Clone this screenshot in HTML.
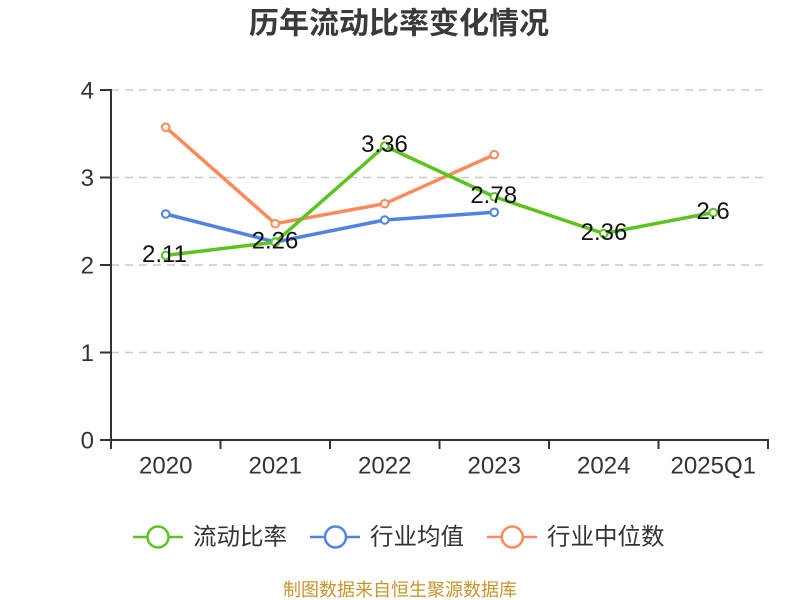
<!DOCTYPE html>
<html><head><meta charset="utf-8"><style>
html,body{margin:0;padding:0;background:#fff;}
svg{display:block;}
</style></head><body>
<svg width="800" height="600" viewBox="0 0 800 600" xmlns="http://www.w3.org/2000/svg">
<rect width="800" height="600" fill="#fff"/>
<text x="399" y="33.5" text-anchor="middle" font-family="'Liberation Sans','Noto Sans CJK SC',sans-serif" font-size="30" font-weight="bold" fill="#3a3a3a">历年流动比率变化情况</text>
<!-- grid -->
<g stroke="#cccccc" stroke-width="1.5" stroke-dasharray="8 6">
<line x1="111" y1="90" x2="768" y2="90"/>
<line x1="111" y1="177.5" x2="768" y2="177.5"/>
<line x1="111" y1="265" x2="768" y2="265"/>
<line x1="111" y1="352.5" x2="768" y2="352.5"/>
</g>
<!-- axes -->
<g stroke="#333" stroke-width="2">
<line x1="111" y1="89" x2="111" y2="441"/>
<line x1="110" y1="440" x2="769" y2="440"/>
<line x1="100" y1="90" x2="111" y2="90"/>
<line x1="100" y1="177.5" x2="111" y2="177.5"/>
<line x1="100" y1="265" x2="111" y2="265"/>
<line x1="100" y1="352.5" x2="111" y2="352.5"/>
<line x1="100" y1="440" x2="111" y2="440"/>
<line x1="111" y1="440" x2="111" y2="449"/>
<line x1="220.5" y1="440" x2="220.5" y2="449"/>
<line x1="330" y1="440" x2="330" y2="449"/>
<line x1="439.5" y1="440" x2="439.5" y2="449"/>
<line x1="549" y1="440" x2="549" y2="449"/>
<line x1="658.5" y1="440" x2="658.5" y2="449"/>
<line x1="768" y1="440" x2="768" y2="449"/>
</g>
<g font-family="'Liberation Sans',sans-serif" font-size="24" fill="#333" text-anchor="end">
<text x="94" y="98.6">4</text>
<text x="94" y="186.1">3</text>
<text x="94" y="273.6">2</text>
<text x="94" y="361.1">1</text>
<text x="94" y="448.6">0</text>
</g>
<g font-family="'Liberation Sans',sans-serif" font-size="24" fill="#333" text-anchor="middle">
<text x="165.75" y="473.6">2020</text>
<text x="275.25" y="473.6">2021</text>
<text x="384.75" y="473.6">2022</text>
<text x="494.25" y="473.6">2023</text>
<text x="603.75" y="473.6">2024</text>
<text x="713.25" y="473.6">2025Q1</text>
</g>
<!-- series -->
<g fill="none" stroke-width="3.5" stroke-linejoin="round">
<polyline stroke="#fd8b5a" points="165.75,127.3 275.25,223.7 384.75,203.7 494.25,154.7"/>
<polyline stroke="#4f84e3" points="165.75,214 275.25,242 384.75,220 494.25,212.3"/>
<polyline stroke="#5cc41e" points="165.75,255.4 275.25,242.2 384.75,146 494.25,196.75 603.75,233.5 713.25,212.5"/>
</g>
<g fill="#fff" stroke-width="2">
<g stroke="#fd8b5a">
<circle cx="165.75" cy="127.3" r="3.8"/><circle cx="275.25" cy="223.7" r="3.8"/><circle cx="384.75" cy="203.7" r="3.8"/><circle cx="494.25" cy="154.7" r="3.8"/>
</g>
<g stroke="#4f84e3">
<circle cx="165.75" cy="214" r="3.8"/><circle cx="275.25" cy="242" r="3.8"/><circle cx="384.75" cy="220" r="3.8"/><circle cx="494.25" cy="212.3" r="3.8"/>
</g>
<g stroke="#5cc41e">
<circle cx="165.75" cy="255.4" r="3.8"/><circle cx="275.25" cy="242.2" r="3.8"/><circle cx="384.75" cy="146" r="3.8"/><circle cx="494.25" cy="196.75" r="3.8"/><circle cx="603.75" cy="233.5" r="3.8"/><circle cx="713.25" cy="212.5" r="3.8"/>
</g>
</g>
<g font-family="'Liberation Sans',sans-serif" font-size="24" fill="#111" text-anchor="middle">
<text x="164.5" y="261.8">2.11</text>
<text x="275" y="248.6">2.26</text>
<text x="384.5" y="151.9">3.36</text>
<text x="493.7" y="202.9">2.78</text>
<text x="604" y="239.9">2.36</text>
<text x="713" y="218.9">2.6</text>
</g>
<!-- legend -->
<g stroke-width="2.5" fill="#fff">
<line x1="133" y1="537" x2="183" y2="537" stroke="#5cc41e"/>
<circle cx="158" cy="537" r="10.5" stroke="#5cc41e"/>
<line x1="310" y1="537" x2="360" y2="537" stroke="#4f84e3"/>
<circle cx="335.5" cy="537" r="10.5" stroke="#4f84e3"/>
<line x1="487" y1="537" x2="537" y2="537" stroke="#fd8b5a"/>
<circle cx="512.3" cy="537" r="10.5" stroke="#fd8b5a"/>
</g>
<g font-family="'Liberation Sans','Noto Sans CJK SC',sans-serif" font-size="23.5" fill="#333">
<text x="193" y="544.5">流动比率</text>
<text x="370" y="544.5">行业均值</text>
<text x="547" y="544.5">行业中位数</text>
</g>
<text x="400" y="596" text-anchor="middle" font-family="'Liberation Sans','Noto Sans CJK SC',sans-serif" font-size="18" fill="#c7952c">制图数据来自恒生聚源数据库</text>
</svg>
</body></html>
